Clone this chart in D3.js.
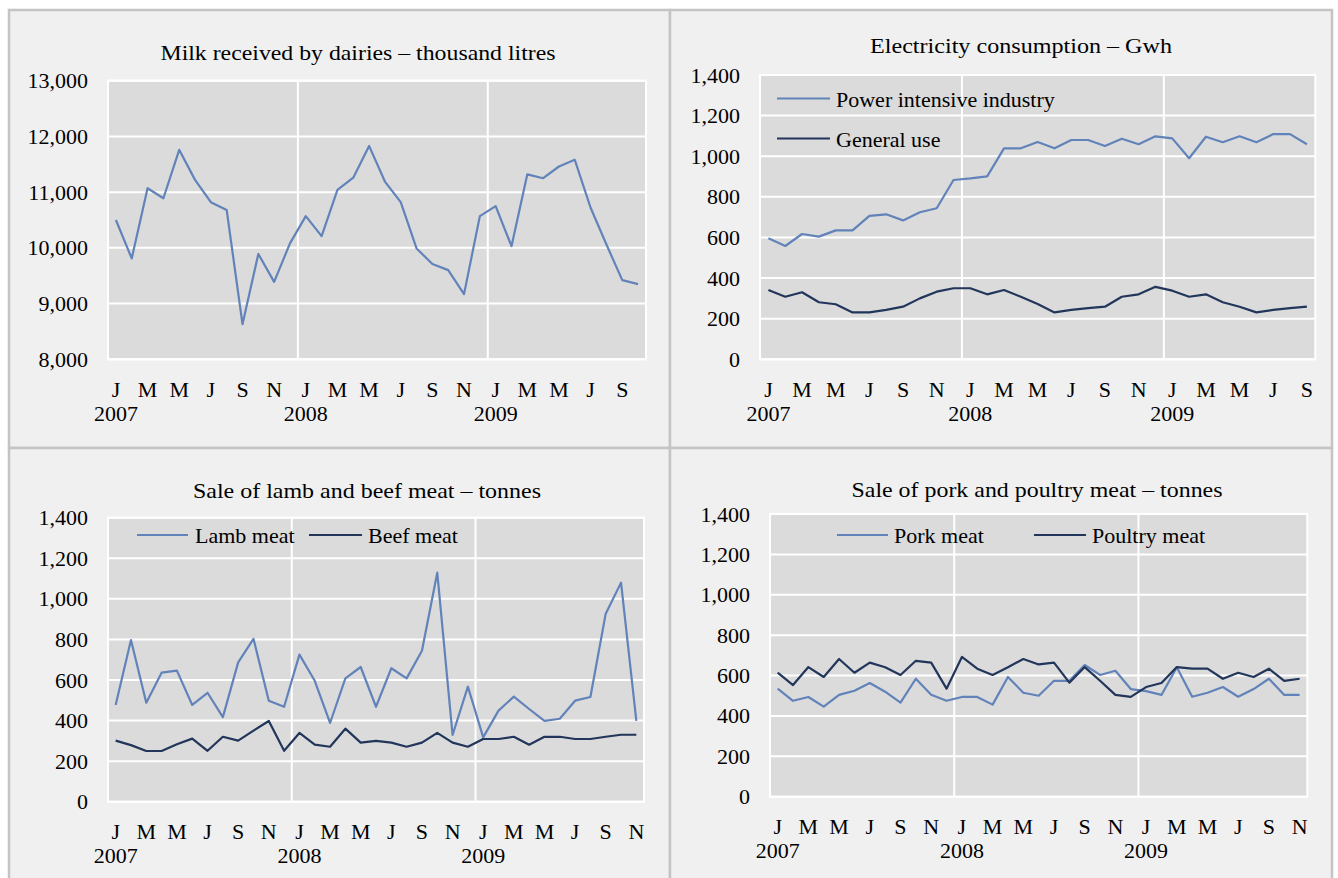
<!DOCTYPE html>
<html>
<head>
<meta charset="utf-8">
<script src="https://cdn.jsdelivr.net/npm/d3@7"></script>
<style>
  body { margin: 0; background: #fff; }
  text { font-family: "Liberation Serif", "Times New Roman", serif; fill: #000; }
</style>
</head>
<body>
<div id="chart"></div>
<script>
// month initials and years for the category axis
const monthInitials = ["J", "F", "M", "A", "M", "J", "J", "A", "S", "O", "N", "D"];
const years = ["2007", "2008", "2009"];

// Milk received by dairies, Jan 2007 - Oct 2009 (thousand litres)
const milk = [10500, 9810, 11070, 10890, 11760, 11220, 10820, 10680, 8630, 9890, 9390, 10080,
              10570, 10210, 11040, 11260, 11830, 11190, 10820, 9990, 9710, 9600, 9170, 10570,
              10750, 10030, 11320, 11250, 11460, 11580, 10720, 10060, 9420, 9350];

// Electricity consumption, Jan 2007 - Sep 2009 (Gwh)
const powerIntensive = [596, 558, 617, 604, 635, 635, 706, 714, 684, 724, 744, 883,
                        891, 901, 1039, 1039, 1070, 1039, 1080, 1080, 1050, 1086, 1059, 1098,
                        1088, 990, 1096, 1069, 1098, 1069, 1109, 1109, 1059];
const generalUse = [341, 308, 330, 281, 271, 231, 231, 243, 259, 300, 333, 350,
                    350, 320, 341, 308, 272, 231, 243, 252, 259, 308, 320, 357,
                    338, 308, 320, 281, 259, 231, 243, 252, 259];

// Meat sales, Jan 2007 - Nov 2009 (tonnes)
const lamb = [477, 797, 488, 636, 646, 477, 537, 417, 687, 803, 498, 468,
              725, 596, 388, 608, 664, 468, 658, 608, 744, 1129, 329, 567,
              317, 449, 518, 457, 398, 409, 498, 516, 927, 1080, 398];
const beef = [301, 279, 250, 250, 283, 311, 251, 320, 301, 350, 398, 251,
              339, 281, 271, 360, 291, 300, 291, 271, 291, 339, 291, 271,
              309, 309, 320, 281, 320, 320, 309, 309, 320, 330, 330];
const pork = [535, 475, 494, 446, 504, 525, 563, 520, 466, 584, 505, 475,
              494, 494, 456, 593, 515, 500, 574, 574, 652, 603, 624, 533,
              523, 504, 641, 495, 515, 543, 495, 533, 584, 504, 504];
const poultry = [614, 553, 642, 593, 682, 614, 664, 641, 603, 673, 664, 535,
                 692, 634, 603, 641, 682, 655, 664, 565, 642, 574, 504, 494,
                 543, 563, 642, 634, 634, 584, 614, 593, 634, 574, 584];

const milkTicks = [8000, 9000, 10000, 11000, 12000, 13000];
const meatTicks = [0, 200, 400, 600, 800, 1000, 1200, 1400];

const LIGHT = "#6283b9";
const DARK = "#22355a";
const FONT = '"Liberation Serif", "Times New Roman", serif';

const W = 1338, H = 878;
const svg = d3.select("#chart").append("svg")
    .attr("width", W)
    .attr("height", H);

const panels = [
  {
    box: [9, 10, 670, 448],
    plot: [108, 80.7, 646, 359.3],
    title: "Milk received  by dairies \u2013 thousand litres", titleX: 358, titleY: 60, titleW: 395,
    domain: [8000, 13000], ticks: milkTicks,
    series: [{ name: null, values: milk, color: LIGHT }]
  },
  {
    box: [670, 10, 1332, 448],
    plot: [760, 75, 1315.3, 359.3],
    title: "Electricity  consumption \u2013 Gwh", titleX: 1021, titleY: 53, titleW: 302,
    domain: [0, 1400], ticks: meatTicks,
    series: [
      { name: "Power intensive industry", values: powerIntensive, color: LIGHT, lx: [777, 830], ly: 98.5, tx: 836 },
      { name: "General use", values: generalUse, color: DARK, lx: [777, 830], ly: 138.5, tx: 836 }
    ]
  },
  {
    box: [9, 448, 670, 890],
    plot: [108, 517.7, 644, 801.7],
    title: "Sale of lamb and beef meat \u2013 tonnes", titleX: 367, titleY: 498, titleW: 348,
    domain: [0, 1400], ticks: meatTicks,
    series: [
      { name: "Lamb meat", values: lamb, color: LIGHT, lx: [137, 188], ly: 535, tx: 195 },
      { name: "Beef meat", values: beef, color: DARK, lx: [309, 362], ly: 535, tx: 368 }
    ]
  },
  {
    box: [670, 448, 1332, 890],
    plot: [770, 514, 1307.3, 796.7],
    title: "Sale of pork and poultry meat \u2013 tonnes", titleX: 1037, titleY: 497, titleW: 371,
    domain: [0, 1400], ticks: meatTicks,
    series: [
      { name: "Pork meat", values: pork, color: LIGHT, lx: [837, 888], ly: 535, tx: 894 },
      { name: "Poultry meat", values: poultry, color: DARK, lx: [1034, 1086], ly: 535, tx: 1092 }
    ]
  }
];

panels.forEach(drawPanel);

function styleText(sel) {
  sel.selectAll("text")
      .style("font-family", FONT)
      .style("font-size", "22px")
      .attr("fill", "#000");
}

function drawPanel(p) {
  const [bx0, by0, bx1, by1] = p.box;
  const [px0, py0, px1, py1] = p.plot;
  const n = p.series[0].values.length;
  const g = svg.append("g");

  g.append("rect")
      .attr("x", bx0).attr("y", by0)
      .attr("width", bx1 - bx0).attr("height", by1 - by0)
      .attr("fill", "#f0f0f0")
      .attr("stroke", "#c4c4c4")
      .attr("stroke-width", 2.5);

  const x = d3.scaleBand().domain(d3.range(n)).range([px0, px1]);
  const cx = i => x(i) + x.bandwidth() / 2;
  const y = d3.scaleLinear().domain(p.domain).range([py1, py0]);

  // plot area
  g.append("rect")
      .attr("x", px0).attr("y", py0)
      .attr("width", px1 - px0).attr("height", py1 - py0)
      .attr("fill", "#dbdbdb")
      .attr("stroke", "#fff")
      .attr("stroke-width", 2);

  // horizontal gridlines
  g.append("g").selectAll("line")
      .data(p.ticks)
      .join("line")
      .attr("x1", px0).attr("x2", px1)
      .attr("y1", d => y(d)).attr("y2", d => y(d))
      .attr("stroke", "#fff")
      .attr("stroke-width", 2);

  // year separators
  g.append("g").selectAll("line")
      .data(d3.range(12, n, 12))
      .join("line")
      .attr("x1", d => x(d)).attr("x2", d => x(d))
      .attr("y1", py0).attr("y2", py1)
      .attr("stroke", "#fff")
      .attr("stroke-width", 2);

  // y axis
  const yAxis = g.append("g")
      .attr("transform", `translate(${px0},0)`)
      .call(d3.axisLeft(y).tickValues(p.ticks).tickFormat(d3.format(",")).tickSize(0).tickPadding(20));
  yAxis.select(".domain").remove();
  styleText(yAxis);

  // month initials (every second month)
  const mAxis = g.append("g")
      .attr("transform", `translate(0,${py1})`)
      .call(d3.axisBottom(x)
        .tickValues(d3.range(0, n, 2))
        .tickFormat(i => monthInitials[i % 12])
        .tickSize(0).tickPadding(22));
  mAxis.select(".domain").remove();
  styleText(mAxis);

  // years under January
  const yrAxis = g.append("g")
      .attr("transform", `translate(0,${py1})`)
      .call(d3.axisBottom(x)
        .tickValues(d3.range(0, n, 12))
        .tickFormat(i => years[Math.floor(i / 12)])
        .tickSize(0).tickPadding(46));
  yrAxis.select(".domain").remove();
  styleText(yrAxis);

  // lines
  const line = d3.line().x((d, i) => cx(i)).y(d => y(d));
  p.series.forEach(s => {
    g.append("path")
        .datum(s.values)
        .attr("d", line)
        .attr("fill", "none")
        .attr("stroke", s.color)
        .attr("stroke-width", 2.2)
        .attr("stroke-linejoin", "round");
  });

  // legend
  p.series.filter(s => s.name).forEach(s => {
    g.append("line")
        .attr("x1", s.lx[0]).attr("x2", s.lx[1])
        .attr("y1", s.ly).attr("y2", s.ly)
        .attr("stroke", s.color)
        .attr("stroke-width", 2.2);
    g.append("text")
        .attr("x", s.tx).attr("y", s.ly + 8)
        .style("font-size", "22px")
        .text(s.name);
  });

  g.append("text")
      .attr("x", p.titleX).attr("y", p.titleY)
      .attr("text-anchor", "middle")
      .attr("textLength", p.titleW)
      .attr("lengthAdjust", "spacingAndGlyphs")
      .style("font-size", "22px")
      .text(p.title);
}
</script>
</body>
</html>
